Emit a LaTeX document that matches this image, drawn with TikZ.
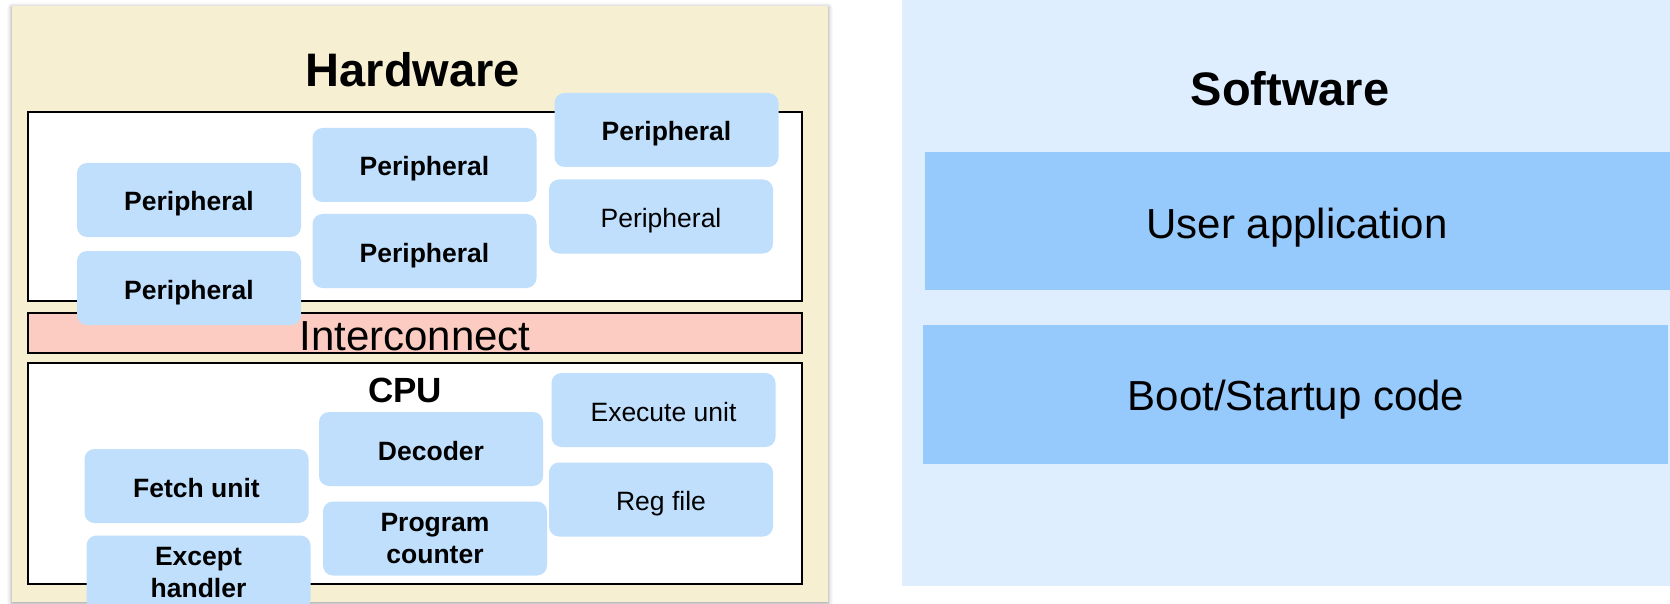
\documentclass[tikz,border=0pt]{standalone}
\usepackage{fontspec}
\setmainfont{Liberation Sans}
\usetikzlibrary{shadows.blur}

\definecolor{hwbg}{HTML}{F6EFD1}
\definecolor{swbg}{HTML}{DEEEFE}
\definecolor{unitblue}{HTML}{BFDFFC}
\definecolor{layerblue}{HTML}{96C9FC}
\definecolor{busred}{HTML}{FCCCC2}

\begin{document}
\begin{tikzpicture}[x=1pt, y=-1pt,
  panel/.style={inner sep=0pt, outer sep=0pt},
  frame/.style={draw=black, line width=2pt, inner sep=0pt, outer sep=0pt},
  unitbase/.style={fill=unitblue, rounded corners=10pt, minimum width=224pt,
    minimum height=74pt, inner sep=0pt, align=center},
  unit/.style={unitbase, text height=22pt, text depth=0pt,
    font=\fontsize{26.5}{31.5}\selectfont},
  bunit/.style={unit, font=\fontsize{26.5}{31.5}\selectfont\bfseries},
  bunittwo/.style={unitbase, font=\fontsize{26.5}{31.5}\selectfont\bfseries},
  title/.style={anchor=base, inner sep=0pt, font=\fontsize{47}{52}\selectfont\bfseries},
  layer/.style={fill=layerblue, inner sep=0pt, outer sep=0pt},
  layertext/.style={anchor=base, inner sep=0pt, font=\fontsize{42}{48}\selectfont}]
\useasboundingbox (0,0) rectangle (1670,604);

% hardware side
\node[panel, fill=hwbg, minimum width=816pt, minimum height=596pt,
  blur shadow={shadow xshift=0pt, shadow yshift=-2pt, shadow blur radius=5pt, shadow opacity=40}]
  (hw) at (420,303.6) {};
\node[title] (hwtitle) at (413,87) {Hardware};

% peripheral area
\node[frame, fill=white, minimum width=774pt, minimum height=189pt] (periph) at (415,206.5) {};
\node[bunit] (p3) at (424.5,165) {Peripheral};
\node[bunit] (p4) at (424.5,251) {Peripheral};
\node[bunit] (p5) at (666.5,130) {Peripheral};
\node[unit]  (p6) at (661,216.5) {Peripheral};
\node[bunit] (p1) at (189,200) {Peripheral};

% interconnect bus
\node[frame, fill=busred, minimum width=774pt, minimum height=40pt] (bus) at (415,333) {};
\node[anchor=base, inner sep=0pt, font=\fontsize{42}{46}\selectfont] (bustext) at (415,350.5) {Interconnect};
\node[bunit] (p2) at (189,288) {Peripheral};

% processor
\node[frame, fill=white, minimum width=774pt, minimum height=221pt] (cpu) at (415,473.5) {};
\node[anchor=base, inner sep=0pt, font=\fontsize{35}{40}\selectfont\bfseries] (cputitle) at (405,402) {CPU};
\node[unit]     (exec)   at (663.5,410)  {Execute unit};
\node[bunit]    (decode) at (431,449)    {Decoder};
\node[bunit]    (fetch)  at (196.5,486)  {Fetch unit};
\node[unit]     (regs)   at (661,499.5)  {Reg file};
\node[bunittwo] (pc)     at (435,538.5)  {Program\\counter};
\node[bunittwo] (exc)    at (198.5,572.5)  {Except\\handler};

% software side
\node[panel, fill=swbg, minimum width=790pt, minimum height=600pt] (sw) at (1297,285.7) {};
\node[title] (swtitle) at (1290,106) {Software};
\node[layer, minimum width=760pt, minimum height=138pt] (app) at (1305,221) {};
\node[layertext] (apptext) at (1297,238.5) {User application};
\node[layer, minimum width=745pt, minimum height=139pt] (boot) at (1295.5,394) {};
\node[layertext] (boottext) at (1296,410) {Boot/Startup code};
\end{tikzpicture}
\end{document}
